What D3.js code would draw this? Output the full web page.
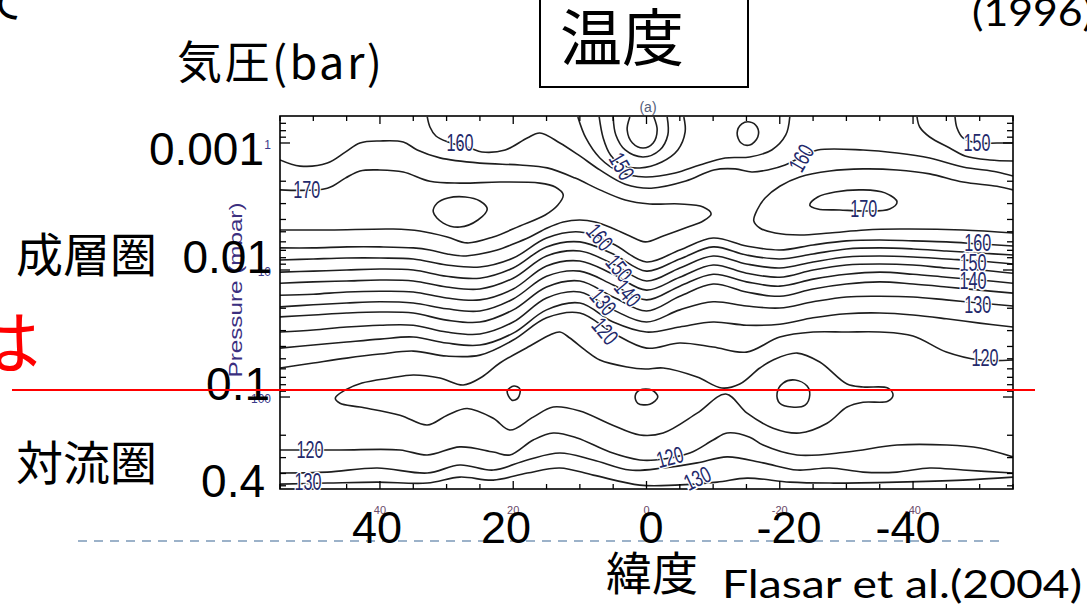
<!DOCTYPE html>
<html>
<head>
<meta charset="utf-8">
<script src="https://cdn.jsdelivr.net/npm/d3@7"></script>
<style>
  html, body { margin: 0; padding: 0; background: #fff; }
  svg { display: block; }
  .jp { font-family: "Noto Sans CJK JP", "Noto Sans", sans-serif; fill: #000; }
  .big { font-family: "Liberation Sans", Arial, sans-serif; fill: #000; }
  .clab { font-family: "Liberation Sans", Arial, sans-serif; fill: #23296b;
          paint-order: stroke; stroke: #fff; stroke-width: 3px; }
  .contour { fill: none; stroke: #1e1e1e; stroke-width: 1.6; }
</style>
</head>
<body>
<div id="chart"></div>
<script>
// latitude columns for the full-width contour lines (deg)
var lats = [55,50,45,40,35,30,25,20,15,10,5,0,-5,-10,-15,-20,-25,-30,-35,-40,-45,-50,-55];

// pressure (mbar) of each stacked contour at those latitudes
var p160 = [8.34,8.19,8.05,8.05,8.19,9.13,9.47,8.05,5.60,5.02,6.24,8.65,6.96,5.60,6.47,6.96,6.35,5.90,5.80,5.90,6.01,6.24,6.47];
var p155 = [10.4,10.2,10.0,9.82,10.0,11.2,11.6,9.64,6.58,6.01,7.48,10.2,8.19,6.58,7.62,8.19,7.48,6.83,6.70,6.83,7.09,7.35,7.62];
var p150 = [12.7,12.4,12.2,12.0,12.2,13.6,14.1,11.6,7.76,7.09,8.97,12.2,9.64,7.76,8.97,9.64,8.65,7.90,7.76,7.90,8.19,8.49,8.97];
var p145 = [15.8,15.5,14.9,14.7,14.9,16.6,17.2,14.1,9.30,8.49,10.8,14.4,11.4,9.13,10.6,11.4,10.0,9.13,8.97,9.13,9.64,10.0,10.6];
var p140 = [19.5,18.8,18.2,17.8,18.2,20.2,21.0,16.9,11.2,10.2,13.1,17.2,13.4,10.8,12.4,13.4,11.8,10.8,10.4,10.8,11.4,12.0,12.7];
var p135 = [23.4,22.6,21.8,21.4,21.8,24.8,25.7,20.6,13.6,12.2,16.3,21.0,16.1,12.9,14.9,16.1,14.1,12.9,12.4,12.9,13.6,14.4,15.2];
var p130 = [30.8,29.7,28.1,27.2,27.2,30.8,31.9,25.7,16.6,14.9,20.6,25.7,20.6,17.8,19.2,19.9,17.8,16.3,16.1,16.3,17.2,18.2,19.2];
var p125 = [41.2,39.0,36.9,35.0,33.7,37.6,39.0,31.4,20.6,18.2,25.7,30.8,28.1,25.7,27.2,26.7,23.8,22.1,21.8,22.6,24.2,26.2,28.1];
var p120 = [59.1,54.0,49.4,45.9,43.5,47.6,46.8,35.6,23.8,21.8,31.4,41.2,37.6,40.4,44.3,33.7,30.8,30.8,30.8,33.1,44.3,51.1,51.1];

// other open contours, [lat, mbar]
var top160 = [[32.9,0.624],[32.5,0.748],[31.6,0.881],[29.8,0.982],[26.5,1.095],[24.7,1.177],[21.2,1.135],[17.9,0.913],[16,0.834],[13,1.0],[10,1.265],[7,1.63],[3.2,2.11],[-0.7,2.27],[-5.9,1.995],[-10.1,1.63],[-13.3,1.60],[-15.8,1.69],[-18.2,1.63],[-20.8,1.49],[-23.2,1.288],[-25.7,1.135],[-32.5,1.135],[-37.6,1.199],[-42.5,1.312],[-47.5,1.544],[-52.6,1.69],[-55,1.82]];
var cap155 = [[10.3,0.624],[9.1,0.913],[7,1.312],[4,1.69],[0.2,1.85],[-4.3,1.72],[-8,1.489],[-11.8,1.312],[-15.5,1.288],[-18.8,1.135],[-20.9,0.865],[-21.5,0.624]];
var cap150 = [[7.1,0.624],[6.5,0.913],[5.4,1.243],[3.7,1.489],[1,1.572],[-2.3,1.41],[-4.7,1.135],[-5.8,0.819],[-5.6,0.624]];
var cap145 = [[5,0.624],[4.6,0.865],[3.2,1.135],[0.5,1.288],[-2,1.135],[-3.2,0.865],[-3.1,0.624]];
var cap140 = [[2.5,0.624],[2.9,0.79],[2.1,1.0],[0.5,1.095],[-1,1.0],[-1.6,0.79],[-1.1,0.624]];
var south155 = [[-40.6,0.624],[-41,0.748],[-42.5,0.897],[-45.5,1.095],[-47.8,1.265],[-51.5,1.36],[-55,1.385]];
var south150 = [[-46.3,0.624],[-46.6,0.762],[-47.5,0.913],[-49.6,1.0],[-52.6,1.0],[-55,1.0]];
var north165 = [[55,1.36],[52,1.52],[47.9,1.44],[45.2,1.18],[43,1.0],[40,0.964],[36.5,0.982],[34.4,1.135],[31,1.31],[25,1.44],[19,1.49],[14.9,1.57],[10.7,1.89],[7,2.34],[3.2,2.81],[-0.5,3.02],[-5,3.02],[-8.5,3.19],[-9.7,3.62],[-8.5,4.11],[-6.2,4.59],[-2.5,5.40],[0.2,6.01],[2.5,5.40],[5.2,4.67],[7.7,4.19],[10,4.04],[12.5,4.19],[14.9,4.67],[17.5,5.49],[20,6.24],[22.4,6.96],[25,7.48],[27.5,7.76],[29.9,7.48],[32.5,6.96],[35,6.70],[40,6.58],[44.9,6.58],[50,6.70],[55,6.70]];
var north170 = [[55,2.34],[47.9,2.27],[45.2,1.89],[43,1.66],[40,1.63],[36.5,1.69],[32.5,2.0],[28,2.07],[22,2.03],[16,2.07],[13.7,2.22],[12.5,2.56],[13.3,3.08],[15.2,3.69],[19,4.50],[23,5.49],[26.9,6.12],[29.9,5.49],[34,4.93],[38,4.76],[47.5,4.84],[55,4.84]];
var south165 = [[-55,2.34],[-52.6,2.19],[-47.5,2.03],[-42.5,1.75],[-37.6,1.63],[-32.5,1.60],[-27.5,1.66],[-23,1.85],[-20,2.19],[-17.8,2.71],[-16.6,3.37],[-16.1,4.11],[-17,4.67],[-19.3,5.11],[-23,5.30],[-27.5,5.11],[-32.8,4.84],[-38,4.76],[-47.5,4.84],[-55,5.11]];
var low120 = [[55,261],[46,261],[37,261],[32.9,286],[28,247],[23,271],[20.5,286],[17,218],[14,192],[10.4,210],[5.5,271],[1,313],[-1.3,313],[-6.5,276],[-10,218],[-12.1,192],[-15.5,207],[-17.5,239],[-22.6,286],[-30.1,271],[-37.6,239],[-45.1,239],[-50,252],[-55,296]];
var low125 = [[55,397],[47.9,390],[40.4,362],[32.9,397],[28,343],[23,376],[17.9,313],[13,276],[8,313],[2.5,376],[-2.5,362],[-7.6,330],[-12.1,296],[-17.5,330],[-22.6,376],[-27.5,362],[-32.5,390],[-37.6,390],[-42.5,362],[-47.5,376],[-55,397]];
var low130 = [[55,485],[47.9,476],[40.4,468],[32.9,476],[28,427],[23,451],[17.9,397],[13,362],[8,412],[1,494],[-4.3,494],[-10.6,468],[-15.1,435],[-21.5,468],[-27.5,476],[-37.6,468],[-47.5,451],[-55,427]];

// closed contours, [lat, mbar]
var oval175 = [[32,3.49],[31.4,2.97],[29.8,2.71],[27.2,2.66],[25,2.86],[23.9,3.31],[25.3,4.04],[28,4.59],[30.5,4.27]];
var oval170 = [[-24.5,3.08],[-25.7,2.66],[-28.3,2.43],[-32.5,2.34],[-35.8,2.47],[-37.6,2.91],[-36.5,3.31],[-32.8,3.43],[-29,3.37],[-25.7,3.31]];
var spot150 = [[-13.6,0.834],[-14.3,0.708],[-15.5,0.683],[-16.6,0.748],[-16.7,0.897],[-15.5,1.037],[-14.2,1.0]];
var loop115 = [[46.7,102],[45.2,88.1],[42.7,77.6],[38.5,70.9],[35,67.1],[31,70.9],[27.5,80.5],[24.7,69.6],[22,54.0],[17.5,39.7],[14.5,32.5],[13,30.8],[11.5,34.3],[9.2,42.7],[7,51.1],[2.9,58.0],[0.2,60.2],[-2.5,59.1],[-7.6,69.6],[-11.3,85.0],[-14,79.0],[-17,59.1],[-19,51.1],[-22.6,45.1],[-26,53.0],[-30.1,79.0],[-32.5,83.4],[-36.2,85.0],[-37,96.5],[-36.2,108],[-32.5,110],[-30.1,120],[-27.1,161],[-23,192],[-19,176],[-15.1,134],[-11.9,94.7],[-7.6,134],[-2.5,192],[1,199],[5.5,163],[10,129],[14,120],[17,144],[20.5,182],[23,147],[26.9,123],[29.9,139],[32.9,166],[37,139],[43,120],[46,112]];
var cold110a = [[20.9,89.7],[19.9,82.0],[19.0,86.5],[19.3,102],[20.2,106]];
var cold110b = [[1.7,98.2],[1,88.1],[-0.8,88.1],[-1.7,100],[-0.5,114],[1.3,112]];
var cold110c = [[-19.6,93.0],[-20.5,77.6],[-22.3,73.5],[-24.1,82.0],[-24.5,96.5],[-23.8,116],[-21.8,120],[-20,112]];

// contour labels: text, lat, mbar, angle
var contourLabels = [
  ["160", 28, 1.0, 0], ["170", 51, 2.34, 0], ["150", 3.7, 1.52, 60], ["160", -23.2, 1.31, -60],
  ["150", -49.6, 1.0, 0], ["170", -32.6, 3.31, 0],
  ["160", 7, 5.49, 50], ["150", 4.1, 9.64, 50], ["140", 2.8, 15.2, 50], ["130", 6.5, 17.8, 50], ["120", 6.2, 30.2, 50],
  ["160", -49.7, 6.12, 0], ["150", -49.0, 8.81, 0], ["140", -49.0, 12.2, 0], ["130", -49.7, 18.8, 0], ["120", -50.8, 49.4, 0],
  ["120", 50.5, 261, 0], ["120", -3.5, 296, -15], ["130", 50.8, 468, 0], ["130", -7.6, 435, -25]
];

// axis labels
var latTicks = [40, 20, 0, -20, -40];
var mbarTicks = [1, 10, 100];
var barLabels = ["0.001", "0.01", "0.1", "0.4"];
var latLabels = ["40", "20", "0", "-20", "-40"];

var W = 1087, H = 610;
var margin = {left: 280, right: 1013, top: 116, bottom: 489};

var svg = d3.select("#chart").append("svg")
    .attr("width", W)
    .attr("height", H);

svg.append("rect").attr("width", W).attr("height", H).attr("fill", "#fff");

var x = d3.scaleLinear().domain([55, -55]).range([margin.left, margin.right]);
var y = d3.scaleLog().domain([0.613, 530]).range([margin.top, margin.bottom]);

svg.append("clipPath").attr("id", "plotclip")
  .append("rect")
    .attr("x", margin.left).attr("y", margin.top)
    .attr("width", margin.right - margin.left)
    .attr("height", margin.bottom - margin.top);

var g = svg.append("g").attr("clip-path", "url(#plotclip)");

var contourLine = d3.line()
    .x(function(d) { return x(d[0]); })
    .y(function(d) { return y(d[1]); })
    .curve(d3.curveCatmullRom.alpha(0.5));
var contourLoop = d3.line()
    .x(function(d) { return x(d[0]); })
    .y(function(d) { return y(d[1]); })
    .curve(d3.curveCatmullRomClosed.alpha(0.5));

var bandLines = [p160, p155, p150, p145, p140, p135, p130, p125, p120].map(function(ps) {
  return lats.map(function(lat, i) { return [lat, ps[i]]; });
});
var openLines = bandLines.concat([top160, cap155, cap150, cap145, cap140, south155, south150,
                                  north165, north170, south165, low120, low125, low130]);
var loopLines = [oval175, oval170, spot150, loop115, cold110a, cold110b, cold110c];

g.selectAll(".openc").data(openLines)
  .enter().append("path")
    .attr("class", "contour openc")
    .attr("d", contourLine);
g.selectAll(".loopc").data(loopLines)
  .enter().append("path")
    .attr("class", "contour loopc")
    .attr("d", contourLoop);

// frame and inward ticks
svg.append("rect")
    .attr("x", margin.left).attr("y", margin.top)
    .attr("width", margin.right - margin.left)
    .attr("height", margin.bottom - margin.top)
    .attr("fill", "none").attr("stroke", "#000").attr("stroke-width", 1.6);

var xt = d3.range(-55, 56, 5);
var ticks = svg.append("g").attr("stroke", "#000").attr("stroke-width", 1.3);
xt.forEach(function(v) {
  var len = (v % 20 === 0) ? 8 : 5;
  ticks.append("line").attr("x1", x(v)).attr("x2", x(v)).attr("y1", margin.bottom).attr("y2", margin.bottom - len);
  ticks.append("line").attr("x1", x(v)).attr("x2", x(v)).attr("y1", margin.top).attr("y2", margin.top + len);
});
y.ticks().forEach(function(v) {
  var major = mbarTicks.indexOf(v) >= 0;
  var len = major ? 10 : 6;
  ticks.append("line").attr("x1", margin.left).attr("x2", margin.left + len).attr("y1", y(v)).attr("y2", y(v));
  ticks.append("line").attr("x1", margin.right).attr("x2", margin.right - len).attr("y1", y(v)).attr("y2", y(v));
});

// contour level labels
svg.selectAll(".clab").data(contourLabels)
  .enter().append("text")
    .attr("class", "clab")
    .attr("text-anchor", "middle")
    .attr("dy", "0.36em")
    .attr("font-size", 23)
    .attr("textLength", 27)
    .attr("lengthAdjust", "spacingAndGlyphs")
    .attr("transform", function(d) { return "translate(" + x(d[1]) + "," + y(d[2]) + ") rotate(" + d[3] + ")"; })
    .text(function(d) { return d[0]; });

// small axis labels of the original figure
svg.selectAll(".mb").data(mbarTicks)
  .enter().append("text")
    .attr("x", 271).attr("y", function(d) { return y(d) + 6; })
    .attr("text-anchor", "end")
    .attr("font-family", "Liberation Sans, Arial, sans-serif")
    .attr("font-size", 12).attr("fill", "#3a3a8a")
    .text(function(d) { return d; });
svg.selectAll(".lt").data(latTicks)
  .enter().append("text")
    .attr("x", function(d) { return x(d); }).attr("y", 514)
    .attr("text-anchor", "middle")
    .attr("font-family", "Liberation Sans, Arial, sans-serif")
    .attr("font-size", 11).attr("fill", "#6a4a6a")
    .text(function(d) { return d; });
svg.append("text")
    .attr("transform", "translate(242,290) rotate(-90)")
    .attr("text-anchor", "middle")
    .attr("font-family", "Liberation Sans, Arial, sans-serif")
    .attr("font-size", 18).attr("fill", "#3b2f7f")
    .attr("textLength", 175).attr("lengthAdjust", "spacingAndGlyphs")
    .text("Pressure (mbar)");
svg.append("text")
    .attr("x", 648).attr("y", 112)
    .attr("text-anchor", "middle")
    .attr("font-family", "Liberation Sans, Arial, sans-serif")
    .attr("font-size", 14).attr("fill", "#55607a")
    .text("(a)");

// slide overlay
svg.append("line")
    .attr("x1", 78).attr("x2", 1003).attr("y1", 541).attr("y2", 541)
    .attr("stroke", "#9cb2c9").attr("stroke-width", 2)
    .attr("stroke-dasharray", "9,7");

var barY = [165, 273, 400, 497], barX = [264, 272, 270, 265];
svg.selectAll(".bar").data(barLabels)
  .enter().append("text")
    .attr("class", "big")
    .attr("x", function(d, i) { return barX[i]; })
    .attr("y", function(d, i) { return barY[i]; })
    .attr("text-anchor", "end")
    .attr("font-size", 46)
    .text(function(d) { return d; });

var latX = [377, 506, 651, 789, 908];
svg.selectAll(".latbig").data(latLabels)
  .enter().append("text")
    .attr("class", "big")
    .attr("x", function(d, i) { return latX[i]; })
    .attr("y", 543)
    .attr("text-anchor", "middle")
    .attr("font-size", 45)
    .text(function(d) { return d; });

svg.append("text").attr("class", "jp").attr("x", 177).attr("y", 79).attr("font-size", 45)
    .attr("textLength", 205).attr("lengthAdjust", "spacing").text("気圧(bar)");
svg.append("text").attr("class", "jp").attr("x", 16).attr("y", 272).attr("font-size", 47).text("成層圏");
svg.append("text").attr("class", "jp").attr("x", 16).attr("y", 480).attr("font-size", 47).text("対流圏");
svg.append("text").attr("class", "jp").attr("x", 606).attr("y", 590).attr("font-size", 46).text("緯度");
svg.append("text").attr("class", "jp").attr("x", -30).attr("y", 369).attr("font-size", 70).style("fill", "#ff0000").text("は");
svg.append("text").attr("class", "jp").attr("x", -18).attr("y", 18).attr("font-size", 44).text("て");

svg.append("rect")
    .attr("x", 540).attr("y", -10).attr("width", 208).attr("height", 97)
    .attr("fill", "none").attr("stroke", "#000").attr("stroke-width", 2);
svg.append("text").attr("class", "jp").attr("x", 560).attr("y", 61).attr("font-size", 62).text("温度");

svg.append("text")
    .attr("x", 722).attr("y", 598)
    .attr("font-family", "Lato, 'Open Sans', sans-serif")
    .attr("font-size", 38)
    .attr("textLength", 360).attr("lengthAdjust", "spacingAndGlyphs")
    .text("Flasar et al.(2004)");
svg.append("text")
    .attr("x", 972).attr("y", 26)
    .attr("font-family", "Lato, 'Open Sans', sans-serif")
    .attr("font-size", 38)
    .attr("textLength", 122).attr("lengthAdjust", "spacingAndGlyphs")
    .text("(1996)");

svg.append("line")
    .attr("x1", 12).attr("x2", 1035).attr("y1", 390).attr("y2", 390)
    .attr("stroke", "#ff0000").attr("stroke-width", 2);
</script>
</body>
</html>
